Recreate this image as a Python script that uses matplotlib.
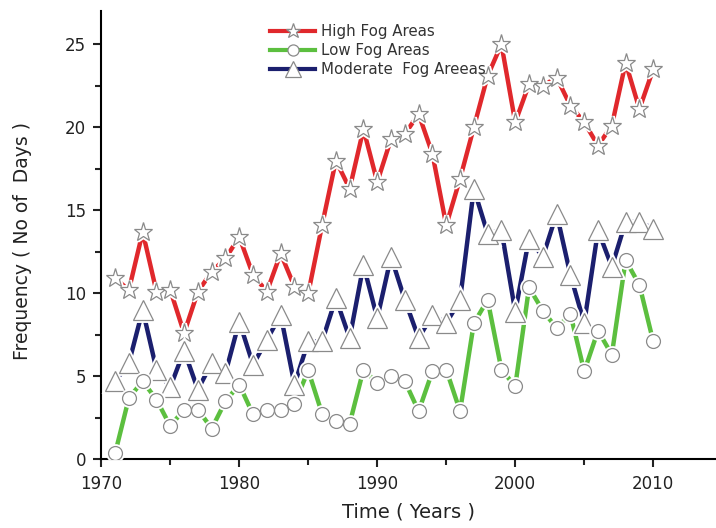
import matplotlib
matplotlib.use("Agg")
import matplotlib.pyplot as plt
from matplotlib.ticker import MultipleLocator
from matplotlib.lines import Line2D

plt.rcParams['font.family'] = ['DejaVu Sans']

years = list(range(1971, 2011))
high_fog = [10.9, 10.2, 13.7, 10.1, 10.2, 7.6, 10.1, 11.3, 12.1, 13.4,
            11.1, 10.1, 12.4, 10.4, 10.0, 14.1, 18.0, 16.3, 19.9, 16.7,
            19.3, 19.6, 20.8, 18.4, 14.1, 16.9, 20.0, 23.1, 25.0, 20.3,
            22.6, 22.5, 23.0, 21.3, 20.3, 18.9, 20.1, 23.9, 21.1, 23.5]
low_fog = [0.35, 3.7, 4.7, 3.6, 2.0, 3.0, 3.0, 1.85, 3.5, 4.5,
           2.7, 3.0, 3.0, 3.35, 5.35, 2.75, 2.3, 2.15, 5.4, 4.6,
           5.0, 4.7, 2.9, 5.3, 5.4, 2.9, 8.2, 9.6, 5.4, 4.4,
           10.35, 8.95, 7.9, 8.75, 5.3, 7.75, 6.3, 12.0, 10.5, 7.1]
mod_fog = [4.7, 5.8, 9.0, 5.4, 4.35, 6.55, 4.2, 5.8, 5.2, 8.3,
           5.7, 7.2, 8.7, 4.5, 7.1, 7.1, 9.7, 7.3, 11.7, 8.5,
           12.2, 9.6, 7.3, 8.7, 8.2, 9.6, 16.3, 13.6, 13.8, 8.9,
           13.3, 12.2, 14.8, 11.1, 8.2, 13.8, 11.6, 14.3, 14.3, 13.9]

labels = ['High Fog Areas', 'Low Fog Areas', 'Moderate  Fog Areeas']
colors = ['#e0282c', '#5cbf3f', '#1b1f6e']
markers = ['*', 'o', '^']
msizes = [14, 10, 14]
series = [high_fog, low_fog, mod_fog]

fig = plt.figure(figsize=(7.16, 5.28), dpi=100)
ax = fig.add_axes([101.3 / 716, 68.7 / 528, (716 - 101.3) / 716, (459.3 - 11.1) / 528])

edge = '#8a8a8a'
for vals, c, z in zip(series, colors, [3, 4, 3.5]):
    ax.plot(years, vals, color=c, lw=3.2, solid_capstyle='round', zorder=z)
for vals, m, ms, z in zip(series, markers, msizes, [5, 7, 6]):
    ax.plot(years, vals, ls='none', marker=m, ms=ms, mfc='white', mec='white', mew=3.5, zorder=z)
    ax.plot(years, vals, ls='none', marker=m, ms=ms, mfc='white', mec=edge, mew=0.9, zorder=z + 0.1)

ax.set_xlim(1970, 2014.55)
ax.set_ylim(0, 27)
ax.xaxis.set_major_locator(MultipleLocator(10))
ax.xaxis.set_minor_locator(MultipleLocator(5))
ax.yaxis.set_major_locator(MultipleLocator(5))
ax.yaxis.set_minor_locator(MultipleLocator(2.5))
for s in ['top', 'right']:
    ax.spines[s].set_visible(False)
for s in ['left', 'bottom']:
    ax.spines[s].set_linewidth(1.5)
ax.tick_params(which='major', direction='out', length=6, width=1.5, labelsize=12, pad=5, colors='#222222')
ax.tick_params(which='minor', direction='out', length=4, width=1.5, colors='#222222')

ax.set_xlabel('Time ( Years )', fontsize=14, color='#222222', labelpad=7)
ax.set_ylabel('Frequency ( No of  Days )', fontsize=13.5, color='#222222')
ax.yaxis.set_label_coords(-0.112, 0.488)

handles = []
for c, m, ms in zip(colors, markers, msizes):
    handles.append(Line2D([], [], color=c, lw=3, marker=m, ms=ms * 0.8, mfc='white', mec=edge, mew=0.9))
leg = fig.legend(handles, labels, loc='upper left', bbox_to_anchor=(270 / 716, 1 - 24 / 528),
                 bbox_transform=fig.transFigure, frameon=False,
                 fontsize=10.8, handlelength=3.0, handletextpad=0.4, labelspacing=0.26,
                 borderaxespad=0, borderpad=0)
for t in leg.get_texts():
    t.set_color('#333333')

fig.savefig('out.png', dpi=100)
